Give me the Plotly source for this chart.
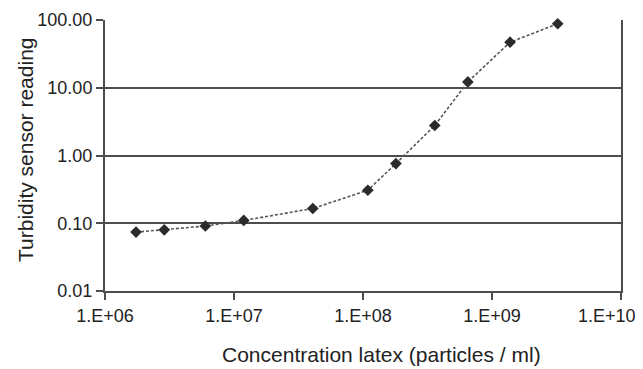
import plotly.graph_objects as go

# Data
concentration = [1.74e6, 2.88e6, 6.0e6, 1.19e7, 4.08e7, 1.09e8, 1.80e8, 3.6e8, 6.5e8, 1.38e9, 3.23e9]
turbidity = [0.074, 0.080, 0.091, 0.11, 0.165, 0.307, 0.76, 2.77, 12.2, 47.0, 88.0]

x_tickvals = [1e6, 1e7, 1e8, 1e9, 1e10]
x_ticktext = ["1.E+06", "1.E+07", "1.E+08", "1.E+09", "1.E+10"]
y_tickvals = [0.01, 0.1, 1, 10, 100]
y_ticktext = ["0.01", "0.10", "1.00", "10.00", "100.00"]

x_title = "Concentration latex (particles / ml)"
y_title = "Turbidity sensor reading"

# The page body adds an 8px offset, so the figure is sized to compensate.
W, H = 635, 361
L, R, T, B = 97, 22, 12, 78
PW, PH = W - L - R, H - T - B   # plot area size (516 x 271)
FONT = "Liberation Sans, Arial, sans-serif"
AX = "#4d4d4d"
TXT = "#222222"

fig = go.Figure()
fig.add_trace(go.Scatter(
    x=concentration, y=turbidity, mode="lines+markers",
    line=dict(color="#555555", width=1.6, dash="3px,2px"),
    marker=dict(symbol="diamond", size=9, color="#2b2b2b"),
    showlegend=False, cliponaxis=False,
))

# all but the last x tick label go on the axis; the last is shifted to fit the page
ticktext_axis = x_ticktext[:-1] + [""]

fig.update_layout(
    width=W, height=H,
    margin=dict(l=L, r=R, t=T, b=B, autoexpand=False),
    paper_bgcolor="white", plot_bgcolor="white",
    font=dict(family=FONT, size=18, color=TXT),
    xaxis=dict(
        type="log", range=[6, 10], tickvals=x_tickvals, ticktext=ticktext_axis,
        showgrid=False, zeroline=False,
        showline=True, linecolor=AX, linewidth=2,
        ticks="outside", ticklen=7, tickwidth=1.5, tickcolor=AX,
        tickfont=dict(family=FONT, size=18, color=TXT),
    ),
    yaxis=dict(
        type="log", range=[-2, 2], tickvals=y_tickvals, ticktext=y_ticktext,
        showgrid=True, gridcolor=AX, gridwidth=1.5, zeroline=False,
        showline=True, linecolor=AX, linewidth=2, mirror=True,
        ticks="outside", ticklen=7, tickwidth=1.5, tickcolor=AX,
        tickfont=dict(family=FONT, size=18, color=TXT),
    ),
    annotations=[
        dict(text=x_ticktext[-1], xref="x", yref="paper", x=10, y=0,
             xanchor="right", yanchor="top", xshift=17, yshift=-13,
             showarrow=False, font=dict(family=FONT, size=18, color=TXT)),
        dict(text=x_title, xref="paper", yref="paper", x=(381 - 105) / PW,
             y=-(354 - 291) / PH, xanchor="center", yanchor="middle",
             showarrow=False, font=dict(family=FONT, size=21, color=TXT)),
        dict(text=y_title, xref="paper", yref="paper", x=(25 - 105) / PW,
             y=(291 - 150) / PH, xanchor="center", yanchor="middle",
             textangle=-90, showarrow=False,
             font=dict(family=FONT, size=21, color=TXT)),
    ],
)

fig.write_html("out.html")
